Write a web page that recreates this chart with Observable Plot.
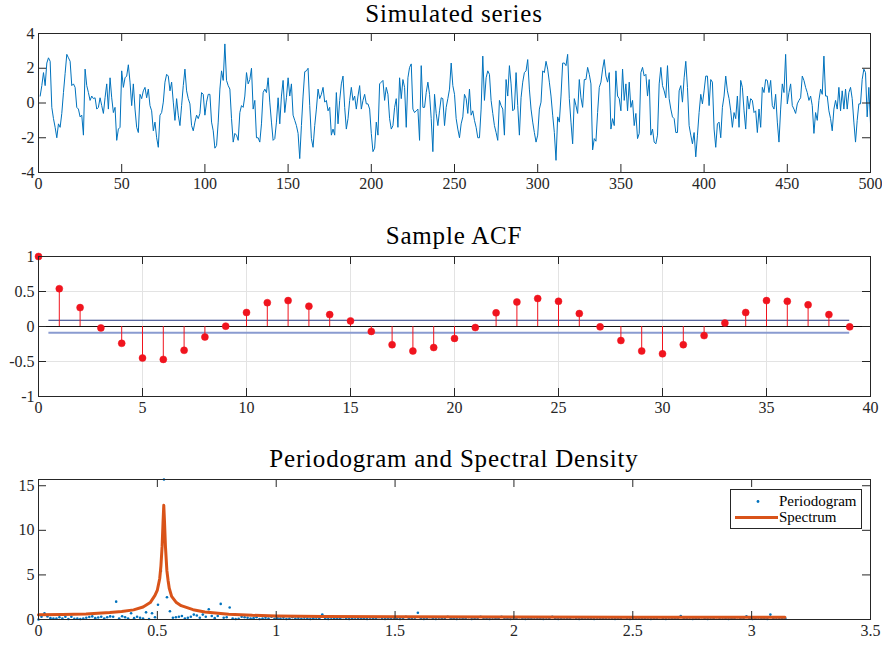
<!DOCTYPE html>
<html>
<head>
<meta charset="utf-8">
<script src="https://cdn.jsdelivr.net/npm/d3@7"></script>
<script src="https://cdn.jsdelivr.net/npm/@observablehq/plot@0.6"></script>
<style>
  html, body { margin: 0; padding: 0; background: #fff; }
  #root { position: relative; width: 882px; height: 648px; overflow: hidden; font-family: "Liberation Serif", "DejaVu Serif", serif; }
  #root svg, #root svg text { font-family: "Liberation Serif", "DejaVu Serif", serif !important; }
  .panel { position: absolute; left: 0; }
  .title { position: absolute; left: 38px; width: 832px; text-align: center; font-size: 25px; line-height: 28px; letter-spacing: 0.8px; color: #000; white-space: nowrap; }
  .legend { position: absolute; left: 730px; top: 489px; width: 130px; height: 38px; border: 1px solid #262626; background: #fff; font-size: 15px; color: #000; }
  .legend .row { position: absolute; left: 0; height: 18px; line-height: 18px; }
  .legend .lab { position: absolute; left: 48px; white-space: nowrap; }
  .legend svg { position: absolute; left: 3px; top: 0; }
</style>
</head>
<body>
<div id="root"></div>
<script>
// ---------------- Data ----------------
const seriesValues = [
  0.4, 1.0, 1.75, 1.0, 2.3, 2.6, 2.4, -0.25, -0.9, -1.4,
  -2.0, -1.2, -1.4, -0.6, 0.6, 1.7, 2.8, 2.6, 2.4, 1.0,
  1.1, 0.9, -0.25, -0.35, -0.8, -0.7, -1.85, 1.95, 1.0, 0.6,
  0.15, 0.4, 0.25, 0.3, -0.35, -0.25, 0.3, -0.15, -0.6, 0.3,
  1.1, -0.35, 1.45, 0.3, -0.55, -0.25, -2.15, -1.5, -1.4, 1.85,
  0.9, 1.45, 1.55, 2.2, 1.2, -0.15, 1.1, -0.35, -1.4, -1.7,
  0.5, 0.25, 0.7, 0.9, 0.3, 0.8, -0.15, -0.45, -1.6, -1.1,
  -2.0, -2.55, -0.7, -0.55, 0.05, 1.2, 1.65, 1.55, 0.7, 1.2,
  0.05, -1.0, 0.25, -0.7, -1.3, -0.15, 1.0, 1.95, 0.7, 0.25,
  -0.05, -1.3, -1.6, -1.1, -0.7, -0.9, -0.6, 0.6, 0.5, -0.7,
  0.05, 0.5, 0.5, -1.1, -1.6, -2.6, -2.45, -1.1, 0.8, 1.85,
  1.3, 3.4, 1.3, 1.0, 0.8, -0.9, -2.25, -1.75, -1.85, -2.15,
  -0.55, -0.15, -0.25, 0.4, 1.75, 1.1, 1.35, 2.0, -0.35, 0.15,
  -2.0, -2.0, -2.25, -1.2, 0.6, 0.8, 0.6, 1.45, 0.05, -1.1,
  -2.15, -2.05, -1.1, 0.3, -1.2, 0.4, 1.3, -0.55, 0.3, 1.45,
  0.4, 1.1, -0.7, -1.0, -1.3, -1.75, -3.2, -1.3, 0.4, 1.8,
  1.85, 2.0, -0.15, -2.05, -2.55, -1.3, -0.35, 0.8, 0.25, 0.5,
  0.9, 0.05, 0.15, -0.45, -0.25, -1.85, -1.5, -1.85, 0.6, -1.2,
  0.15, 1.1, 1.55, -0.25, -1.5, -0.9, 0.15, 0.9, 0.15, 0.4,
  -0.35, 0.4, 1.0, -0.35, 0.15, 0.5, -0.05, -0.05, -0.35, -1.75,
  -2.8, -2.6, -1.1, -1.85, 1.1, 1.2, 1.3, 0.15, 0.9, 0.5,
  -0.9, -1.5, -1.3, -0.25, 0.25, -1.4, 1.45, 0.25, 1.35, 0.9,
  -1.4, 1.45, 2.05, 2.25, -0.35, -0.55, -0.45, -0.35, -2.15, 2.15,
  -0.25, -0.25, 0.6, 1.2, 0.5, -0.9, -2.8, 0.5, -0.6, -1.3,
  -0.45, 0.3, 0.25, -1.3, -0.25, 0.25, 0.8, 2.3, 1.0, 0.5,
  -0.9, -1.5, -2.0, -1.2, -0.8, 0.5, 0.25, -0.6, 0.8, -0.7,
  -0.45, -1.0, -1.4, -2.0, -2.0, -0.35, 2.7, 0.15, 1.45, 1.85,
  1.65, 0.15, -0.6, -1.3, -1.7, -2.15, 0.15, -0.15, -0.35, -1.85,
  1.35, 0.4, 2.15, 1.1, -0.45, -0.35, 1.75, -0.15, -1.85, 0.3,
  1.2, 1.75, 1.85, 2.5, 0.8, -0.35, -1.1, -1.7, -2.25, -1.85,
  -0.35, 0.05, 1.85, 1.75, 2.4, 1.95, 1.2, 0.4, -0.7, -1.7,
  -3.3, -0.8, -1.1, 0.4, 2.3, 2.3, 2.15, 2.8, 0.25, -1.1,
  -2.35, 0.25, -0.15, -0.6, 1.35, 0.3, -0.25, 1.35, 1.35, 2.05,
  1.65, 1.1, -2.7, -2.05, -2.2, -0.55, 0.9, 1.2, 1.95, 2.5,
  1.55, 1.2, 1.75, -1.5, -0.9, -1.3, 1.85, 0.4, 0.25, -0.45,
  1.95, 0.15, 1.1, -0.45, 1.2, -0.25, 0.15, -1.3, -0.6, -2.05,
  -1.75, 1.75, 2.05, 1.55, 1.65, 0.4, 1.35, -1.85, -1.5, -2.25,
  -2.35, -1.85, 1.1, 2.05, 1.0, 0.7, 0.3, 2.15, 0.25, -0.35,
  -0.8, -0.9, -1.7, -1.7, 0.7, 1.0, 0.05, 1.45, 2.4, 0.9,
  -1.3, -1.85, -2.35, -1.7, -3.1, -1.85, -0.55, 0.5, -0.05, 0.7,
  1.55, 1.55, -0.15, 1.35, 1.2, -1.5, -2.55, -1.2, -1.1, -2.0,
  -0.25, 0.4, 1.55, 0.7, 0.25, -0.45, -1.4, -0.55, -0.9, 0.4,
  -1.4, 1.3, 0.9, -0.45, -1.5, 0.4, -0.35, 0.25, 0.15, -0.55,
  -0.45, -1.7, -0.35, -1.4, 0.9, 0.6, 1.35, 1.3, 0.6, 1.3,
  -0.15, -0.35, 0.5, -1.1, -2.25, -0.35, 1.1, 0.6, 2.8, -0.05,
  0.6, 1.1, -0.15, -0.35, -0.6, -0.05, 0.15, 0.3, 1.55, 1.3,
  0.9, 0.6, 0.15, 0.4, -0.15, -1.75, -0.55, -1.0, 0.15, 0.8,
  0.5, 2.7, 0.4, 0.4, -0.45, -0.9, -1.6, -0.35, 0.15, -0.35,
  0.9, -0.45, 0.7, -0.35, 0.8, -0.35, 0.6, 0.9, 0.25, -1.1,
  -2.25, -1.0, -0.05, -0.05, 1.35, 1.95, 1.75, -0.8, 0.9, -1.2
];

const acfLags = d3.range(0, 40);
const acfValues = [
  1.0, 0.54, 0.27, -0.02, -0.24, -0.45, -0.47, -0.34, -0.15, 0.005,
  0.20, 0.34, 0.37, 0.29, 0.17, 0.08, -0.07, -0.26, -0.35, -0.30,
  -0.17, -0.015, 0.195, 0.35, 0.40, 0.36, 0.185, -0.005, -0.20, -0.35,
  -0.39, -0.26, -0.13, 0.05, 0.20, 0.37, 0.36, 0.31, 0.17, -0.005
];
const acfBound = 0.0894;
const boundLags = [0.5, 39];

const periodogramValues = [
  0.0, 0.3, 0.7, 0.35, 0.15, 0.1, 0.12, 0.25, 0.1, 0.3,
  0.05, 0.3, 0.08, 0.1, 0.06, 0.12, 0.2, 0.28, 0.35, 0.15,
  0.22, 0.3, 0.1, 0.25, 0.35, 0.3, 2.0, 0.12, 0.37, 0.25,
  0.1, 0.7, 0.15, 0.3, 0.2, 0.12, 0.8, 0.05, 0.7, 0.25,
  1.65, 5.45, 15.7, 2.5, 0.93, 0.2, 0.25, 0.3, 0.4, 0.12,
  0.2, 0.3, 0.55, 0.45, 0.2, 0.55, 0.3, 1.15, 0.4, 0.15,
  0.4, 1.75, 0.2, 0.25, 1.35, 0.1, 0.05, 0.08, 0.3, 0.25,
  0.2, 0.1, 0.15, 0.25, 0.05, 0.1, 0.2, 0.12, 0.3, 0.08,
  0.15, 0.1, 0.2, 0.05, 0.12, 0.25, 0.1, 0.18, 0.08, 0.2,
  0.1, 0.05, 0.15, 0.2, 0.1, 0.55, 0.12, 0.05, 0.2, 0.1,
  0.08, 0.15, 0.25, 0.1, 0.05, 0.12, 0.2, 0.08, 0.1, 0.15,
  0.05, 0.2, 0.1, 0.12, 0.25, 0.08, 0.05, 0.15, 0.1, 0.2,
  0.12, 0.05, 0.1, 0.3, 0.15, 0.08, 0.2, 0.75, 0.1, 0.05,
  0.15, 0.25, 0.1, 0.05, 0.2, 0.12, 0.08, 0.3, 0.1, 0.15,
  0.05, 0.2, 0.1, 0.12, 0.25, 0.05, 0.1, 0.18, 0.3, 0.08,
  0.12, 0.05, 0.2, 0.1, 0.15, 0.3, 0.08, 0.1, 0.05, 0.2,
  0.1, 0.25, 0.12, 0.05, 0.15, 0.1, 0.2, 0.08, 0.12, 0.05,
  0.2, 0.1, 0.3, 0.15, 0.05, 0.1, 0.2, 0.12, 0.08, 0.25,
  0.1, 0.05, 0.15, 0.2, 0.1, 0.12, 0.05, 0.2, 0.1, 0.15,
  0.08, 0.2, 0.1, 0.05, 0.15, 0.12, 0.25, 0.1, 0.05, 0.2,
  0.1, 0.15, 0.08, 0.12, 0.2, 0.05, 0.1, 0.15, 0.25, 0.1,
  0.05, 0.2, 0.12, 0.1, 0.15, 0.4, 0.08, 0.1, 0.2, 0.05,
  0.15, 0.1, 0.25, 0.12, 0.05, 0.2, 0.1, 0.25, 0.08, 0.2,
  0.1, 0.05, 0.15, 0.12, 0.25, 0.1, 0.08, 0.35, 0.1, 0.05,
  0.15, 0.2, 0.1, 0.12, 0.05, 0.55, 0.1, 0.2, 0.08, 0.15,
  0.1
];
const nObs = 500;

const spectrumFreq = [0, 0.1, 0.2, 0.3, 0.35, 0.4, 0.44, 0.47, 0.49, 0.50, 0.51, 0.515, 0.52, 0.524, 0.527, 0.530, 0.534, 0.54, 0.545, 0.55, 0.56, 0.58, 0.6, 0.65, 0.7, 0.8, 0.9, 1.0, 1.2, 1.5, 2.0, 2.5, 3.0, 3.14];
const spectrumValues = [0.52, 0.55, 0.62, 0.78, 0.9, 1.08, 1.4, 1.9, 2.7, 3.3, 4.6, 6.0, 8.2, 11.0, 12.8, 11.0, 8.2, 5.5, 4.4, 3.5, 2.6, 1.9, 1.55, 1.1, 0.85, 0.6, 0.47, 0.4, 0.34, 0.3, 0.27, 0.25, 0.24, 0.24];

const seriesXTicks = d3.range(0, 501, 50);
const seriesYTicks = [-4, -2, 0, 2, 4];
const acfXTicks = d3.range(0, 41, 5);
const acfYTicks = [-1, -0.5, 0, 0.5, 1];
const pgXTicks = [0, 0.5, 1, 1.5, 2, 2.5, 3, 3.5];
const pgYTicks = [0, 5, 10, 15];

// ---------------- Tables ----------------
const series = seriesValues.map((v, i) => ({t: i + 1, v}));
const acf = acfLags.map((lag, i) => ({lag, v: acfValues[i]}));
const periodogram = periodogramValues.map((p, k) => ({f: 2 * Math.PI * k / nObs, p}));
const spectrum = spectrumFreq.map((f, i) => ({f, s: spectrumValues[i]}));

// ---------------- Styling helpers ----------------
const W = 882, ML = 38, MR = 12, MT = 10, MB = 30;
const axisColor = "#262626";
const tickLen = 8;
const fmt = d => String(d);

function boxTicks(xt, yt, innerW, innerH) {
  return [
    Plot.tickX(xt, {x: d => d, stroke: axisColor, insetTop: innerH - tickLen}),
    Plot.tickX(xt, {x: d => d, stroke: axisColor, insetBottom: innerH - tickLen}),
    Plot.tickY(yt, {y: d => d, stroke: axisColor, insetRight: innerW - tickLen}),
    Plot.tickY(yt, {y: d => d, stroke: axisColor, insetLeft: innerW - tickLen}),
    Plot.frame({stroke: axisColor, strokeWidth: 1})
  ];
}

function place(el, top) {
  const d = document.createElement("div");
  d.className = "panel";
  d.style.top = top + "px";
  d.appendChild(el);
  document.getElementById("root").appendChild(d);
}
function title(text, top) {
  const d = document.createElement("div");
  d.className = "title";
  d.style.top = top + "px";
  d.textContent = text;
  document.getElementById("root").appendChild(d);
}

const baseStyle = {fontFamily: "'Liberation Serif', serif", fontSize: "16px", color: axisColor, background: "transparent", overflow: "visible"};

// ---------------- Panel 1: Simulated series ----------------
{
  const H = 179, innerW = W - ML - MR, innerH = H - MT - MB;
  const p = Plot.plot({
    width: W, height: H, marginLeft: ML, marginRight: MR, marginTop: MT, marginBottom: MB,
    style: baseStyle,
    x: {domain: [0, 500], ticks: seriesXTicks, tickFormat: fmt, tickSize: 0, tickPadding: 5, label: null},
    y: {domain: [-4, 4], ticks: seriesYTicks, tickFormat: fmt, tickSize: 0, tickPadding: 4, label: null},
    marks: [
      Plot.line(series, {x: "t", y: "v", stroke: "#0072BD", strokeWidth: 1}),
      ...boxTicks(seriesXTicks, seriesYTicks, innerW, innerH)
    ]
  });
  place(p, 23);
  title("Simulated series", 0);
}

// ---------------- Panel 2: Sample ACF ----------------
{
  const H = 180, innerW = W - ML - MR, innerH = H - MT - MB;
  const red = "#f0141e";
  const p = Plot.plot({
    width: W, height: H, marginLeft: ML, marginRight: MR, marginTop: MT, marginBottom: MB,
    style: baseStyle,
    x: {domain: [0, 40], ticks: acfXTicks, tickFormat: fmt, tickSize: 0, tickPadding: 5, label: null},
    y: {domain: [-1, 1], ticks: acfYTicks, tickFormat: fmt, tickSize: 0, tickPadding: 4, label: null},
    marks: [
      Plot.ruleX(acfXTicks, {x: d => d, stroke: "#e3e3e3", strokeWidth: 1}),
      Plot.ruleY(acfYTicks, {y: d => d, stroke: "#e3e3e3", strokeWidth: 1}),
      Plot.ruleY([0], {y: d => d, stroke: "#111"}),
      Plot.ruleY([acfBound], {y: d => d, x1: boundLags[0], x2: boundLags[1], stroke: "#22347f", strokeWidth: 1.2}),
      Plot.ruleY([-acfBound], {y: d => d, x1: boundLags[0], x2: boundLags[1], stroke: "#8a9bd0", strokeWidth: 2.2}),
      Plot.ruleX(acf, {x: "lag", y1: 0, y2: "v", stroke: red, strokeWidth: 1}),
      Plot.dot(acf, {x: "lag", y: "v", r: 3.5, fill: red, stroke: red, strokeWidth: 0.5}),
      ...boxTicks(acfXTicks, acfYTicks, innerW, innerH)
    ]
  });
  place(p, 246);
  title("Sample ACF", 221.5);
}

// ---------------- Panel 3: Periodogram and Spectral Density ----------------
{
  const H = 179, MB3 = 29, innerW = W - ML - MR, innerH = H - MT - MB3;
  const p = Plot.plot({
    width: W, height: H, marginLeft: ML, marginRight: MR, marginTop: MT, marginBottom: MB3,
    style: baseStyle,
    x: {domain: [0, 3.5], ticks: pgXTicks, tickFormat: fmt, tickSize: 0, tickPadding: 5, label: null},
    y: {domain: [0, 15.7], ticks: pgYTicks, tickFormat: fmt, tickSize: 0, tickPadding: 4, label: null},
    marks: [
      Plot.dot(periodogram, {x: "f", y: "p", r: 1.3, fill: "#0072BD", stroke: "none"}),
      Plot.line(spectrum, {x: "f", y: "s", stroke: "#D95319", strokeWidth: 3}),
      ...boxTicks(pgXTicks, pgYTicks, innerW, innerH)
    ]
  });
  place(p, 469);
  title("Periodogram and Spectral Density", 444.5);
}

// ---------------- Legend ----------------
{
  const lg = document.createElement("div");
  lg.className = "legend";
  lg.innerHTML = `
    <div class="row" style="top:2px;width:100%">
      <svg width="44" height="18"><circle cx="24" cy="9.5" r="1.4" fill="#0072BD"/></svg>
      <span class="lab">Periodogram</span>
    </div>
    <div class="row" style="top:18px;width:100%">
      <svg width="44" height="18"><line x1="1" x2="44" y1="9.5" y2="9.5" stroke="#D95319" stroke-width="3"/></svg>
      <span class="lab">Spectrum</span>
    </div>`;
  document.getElementById("root").appendChild(lg);
}
</script>
</body>
</html>
